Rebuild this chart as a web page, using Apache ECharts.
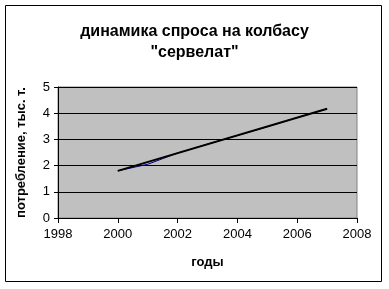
<!DOCTYPE html>
<html><head><meta charset="utf-8">
<script src="https://cdn.jsdelivr.net/npm/echarts@6/dist/echarts.min.js"></script>
<style>html,body{margin:0;padding:0;background:#fff}#c{width:389px;height:289px}</style>
</head><body><div id="c"></div>
<script>
var years = [2000, 2001, 2002, 2003, 2004, 2005, 2006, 2007];
var demand = [1.8, 2.05, 2.48, 2.82, 3.15, 3.48, 3.83, 4.17];
var trendYears = [2000, 2007];
var trendValues = [1.8, 4.17];
var titleText = 'динамика спроса на колбасу\n"сервелат"';
var xName = 'годы';
var yName = 'потребление, тыс. т.';

var chart = echarts.init(document.getElementById('c'), null, {renderer: 'canvas'});
var font = 'Arial, "Liberation Sans", sans-serif';
chart.setOption({
  animation: false,
  backgroundColor: '#fff',
  title: {
    text: titleText, left: 'center', top: 16,
    textStyle: {fontFamily: font, fontSize: 16, fontWeight: 'bold', color: '#000', lineHeight: 21}
  },
  graphic: [{type: 'rect', shape: {x: 5.5, y: 5.5, width: 376, height: 276}, style: {fill: 'none', stroke: '#000', lineWidth: 1}, silent: true}],
  grid: {left: 58, right: 32, top: 87, bottom: 71, show: true, backgroundColor: '#C0C0C0', borderColor: '#808080', borderWidth: 1},
  xAxis: {
    type: 'value', min: 1998, max: 2008, interval: 2,
    name: xName, nameLocation: 'middle', nameGap: 38,
    nameTextStyle: {fontFamily: font, fontSize: 13, fontWeight: 'bold', color: '#000'},
    axisLine: {onZero: false, lineStyle: {color: '#000', width: 1}},
    axisTick: {show: true, length: 5, lineStyle: {color: '#000'}},
    axisLabel: {fontFamily: font, fontSize: 13, color: '#000', margin: 10, formatter: function(v){return String(v);}},
    splitLine: {show: false}
  },
  yAxis: {
    type: 'value', min: 0, max: 5, interval: 1,
    name: yName, nameLocation: 'middle', nameGap: 30,
    nameTextStyle: {fontFamily: font, fontSize: 13, fontWeight: 'bold', color: '#000'},
    axisLine: {show: true, lineStyle: {color: '#000', width: 1}},
    axisTick: {show: true, length: 4, lineStyle: {color: '#000'}},
    axisLabel: {fontFamily: font, fontSize: 13, color: '#000', margin: 8},
    splitLine: {show: true, lineStyle: {color: '#000', width: 1}}
  },
  series: [
    {type: 'line', data: years.map(function(y, i){return [y, demand[i]];}), showSymbol: false, lineStyle: {color: '#000080', width: 1}, z: 2},
    {type: 'line', data: trendYears.map(function(y, i){return [y, trendValues[i]];}), showSymbol: false, lineStyle: {color: '#000', width: 2}, z: 3}
  ]
});
</script></body></html>
